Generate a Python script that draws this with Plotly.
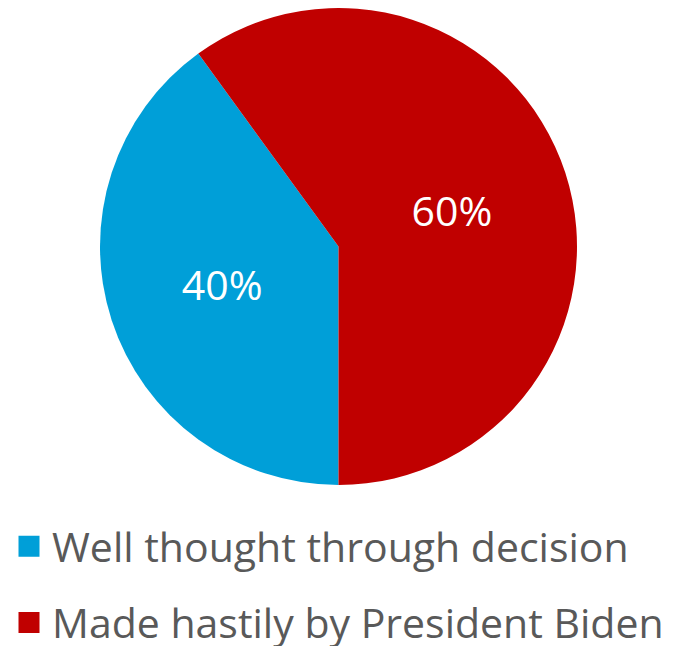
import plotly.graph_objects as go

labels = ["Well thought through decision", "Made hastily by President Biden"]
values = [40, 60]
colors = ["#009FD8", "#C00000"]

W, H = 682, 646
fig = go.Figure()
fig.add_trace(go.Pie(
    labels=labels,
    values=values,
    sort=False,
    direction="clockwise",
    rotation=180,
    marker=dict(colors=colors, line=dict(width=0)),
    texttemplate="%{percent:.0%}",
    textposition="inside",
    insidetextorientation="horizontal",
    insidetextfont=dict(color="white", size=41, family="Open Sans"),
    domain=dict(x=[100 / W, 577 / W], y=[1 - 485 / H, 1 - 8 / H]),
    hoverinfo="skip",
    showlegend=False,
))

# legend entries (square swatches) mirroring the pie slices
for i, (lab, col) in enumerate(zip(labels, colors)):
    fig.add_trace(go.Scatter(
        x=[None], y=[None], mode="markers", name=lab,
        legendgroup=f"g{i}",
        marker=dict(symbol="square", size=16, color=col, line=dict(color=col, width=5)),
        showlegend=True, hoverinfo="skip",
    ))

fig.update_layout(
    width=W, height=H,
    margin=dict(l=0, r=0, t=0, b=0, autoexpand=False),
    paper_bgcolor="white",
    plot_bgcolor="white",
    xaxis=dict(visible=False),
    yaxis=dict(visible=False),
    legend=dict(
        orientation="v",
        x=6 / W, xanchor="left",
        y=1 - 513 / H, yanchor="top",
        font=dict(size=41, color="#595959", family="Open Sans"),
        tracegroupgap=20,
        itemwidth=36,
        bgcolor="rgba(0,0,0,0)",
    ),
)

fig.write_html("out.html", config={"displayModeBar": False},
               post_script="document.body.style.margin='0';")
